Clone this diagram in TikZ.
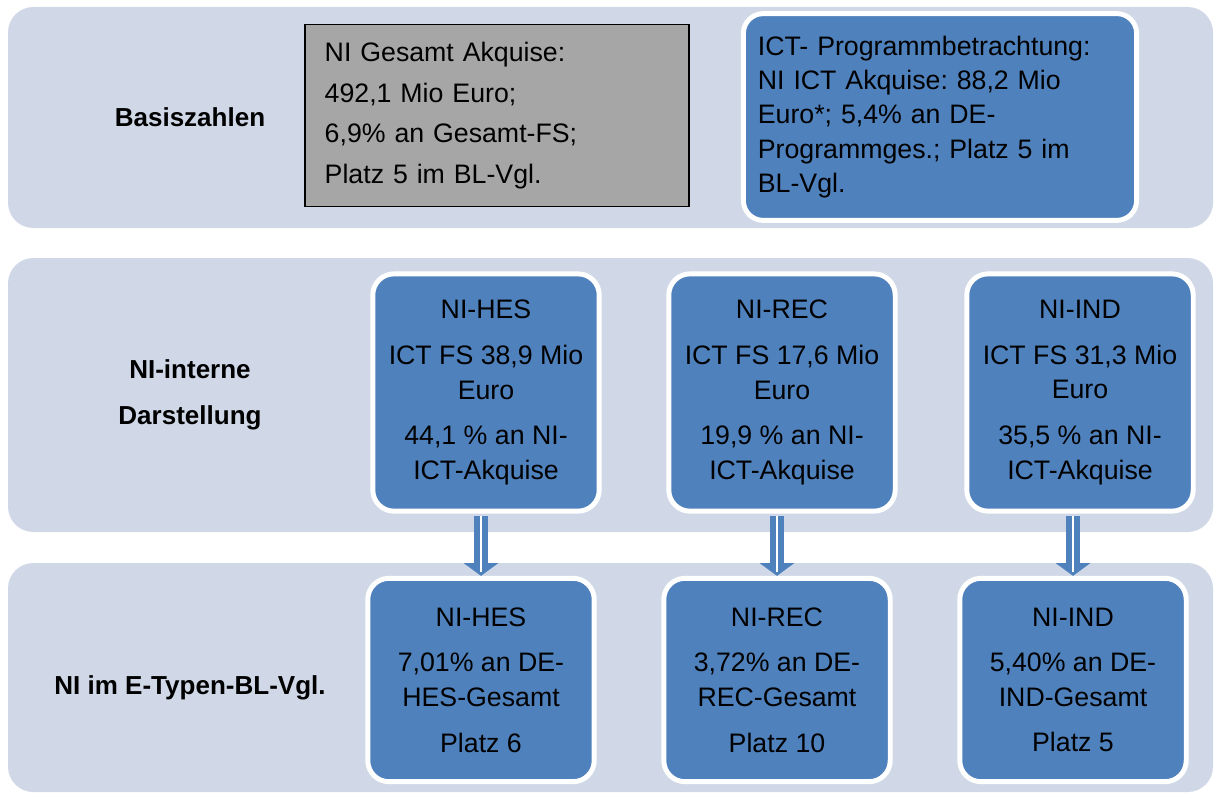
\documentclass[tikz,border=0pt]{standalone}
\usepackage{fontspec}
\setmainfont{Liberation Sans}
\usetikzlibrary{arrows.meta}
\frenchspacing
\definecolor{bandgray}{HTML}{D0D8E8}
\definecolor{boxblue}{HTML}{4F81BD}
\definecolor{boxgray}{HTML}{A6A6A6}
\tikzstyle{band} = [fill=bandgray, rounded corners=18pt]
\tikzstyle{rowtitle} = [align=center, font=\fontsize{18.5}{32.6}\selectfont\bfseries]
\tikzstyle{note} = [rectangle, draw=black, line width=0.8pt, fill=boxgray, align=left, text width=245pt, inner xsep=14pt, minimum height=129pt, font=\fontsize{19}{28.9}\selectfont]
\tikzstyle{infobox} = [rectangle, rounded corners=14pt, draw=white, line width=3.5pt, fill=boxblue, align=left, text width=259pt, inner xsep=10.3pt, minimum height=147pt, font=\fontsize{19}{24.5}\selectfont]
\tikzstyle{cell} = [rectangle, rounded corners=15pt, draw=white, line width=3.5pt, fill=boxblue, align=center, inner sep=0pt, minimum width=161pt, font=\fontsize{19}{24.5}\selectfont]
\tikzstyle{flow} = [draw=boxblue, line width=10pt, shorten <=2pt, -{Triangle[width=24pt, length=9pt]}]
\tikzstyle{flowcore} = [draw=white, line width=2pt, shorten <=2pt, shorten >=3pt]

\begin{document}
\begin{tikzpicture}[x=0.025cm, y=-0.025cm]
\useasboundingbox (0,0) rectangle (1214,794);

% bands
\fill [band] (8,7) rectangle (1213,228);
\fill [band] (8,258) rectangle (1213,532);
\fill [band] (8,563) rectangle (1213,792);

% row titles
\node (basis) [rowtitle] at (190,117) {Basiszahlen};
\node (intern) [rowtitle] at (190,395) {NI-interne\\Darstellung};
\node (vgl) [rowtitle] at (190,688) {NI im E-Typen-BL-Vgl.};

% basic figures
\node (total) [note] at (497,115.5) {NI Gesamt Akquise:\\492,1 Mio Euro;\\6,9\% an Gesamt-FS;\\Platz 5 im BL-Vgl.};
\node (ict) [infobox] at (940,117) {ICT- Programmbetrachtung:\\NI ICT Akquise: 88,2 Mio\\Euro*; 5,4\% an DE-\\Programmges.; Platz 5 im\\BL-Vgl.};

% internal view
\node (hes1) [cell, minimum height=168.7pt] at (486,392.5) {NI-HES\\[8pt]ICT FS 38,9 Mio\\Euro\\[8pt]44,1 \% an NI-\\ICT-Akquise};
\node (rec1) [cell, minimum height=168.7pt] at (782,392.5) {NI-REC\\[8pt]ICT FS 17,6 Mio\\Euro\\[8pt]19,9 \% an NI-\\ICT-Akquise};
\node (ind1) [cell, minimum height=168.7pt] at (1080,392.5) {NI-IND\\[8pt]ICT FS 31,3 Mio\\Euro\\[8pt]35,5 \% an NI-\\ICT-Akquise};

% comparison
\node (hes2) [cell, minimum height=144.6pt] at (481,680) {NI-HES\\[8pt]7,01\% an DE-\\HES-Gesamt\\[8pt]Platz 6};
\node (rec2) [cell, minimum height=144.6pt] at (777,680) {NI-REC\\[8pt]3,72\% an DE-\\REC-Gesamt\\[8pt]Platz 10};
\node (ind2) [cell, minimum height=144.6pt] at (1073,680) {NI-IND\\[8pt]5,40\% an DE-\\IND-Gesamt\\[8pt]Platz 5};

\draw [flow] (hes1.south -| hes2.north) -- (hes2.north);
\draw [flowcore] (hes1.south -| hes2.north) -- (hes2.north);
\draw [flow] (rec1.south -| rec2.north) -- (rec2.north);
\draw [flowcore] (rec1.south -| rec2.north) -- (rec2.north);
\draw [flow] (ind1.south -| ind2.north) -- (ind2.north);
\draw [flowcore] (ind1.south -| ind2.north) -- (ind2.north);

\end{tikzpicture}
\end{document}
